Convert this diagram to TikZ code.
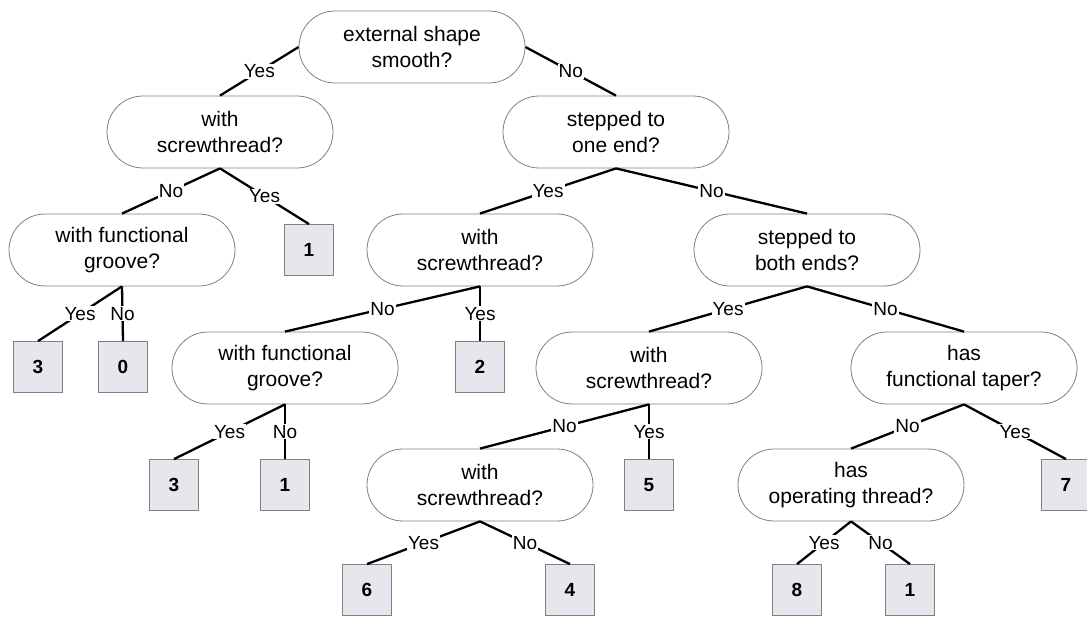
\documentclass[tikz,border=0pt]{standalone}
\usepackage{fontspec}
\setmainfont{Liberation Sans}
\usetikzlibrary{positioning}
\definecolor{mgray}{rgb}{0.5, 0.5, 0.5}
\definecolor{mfill}{RGB}{229, 231, 236}
\tikzset{quest/.style = {draw = mgray, line width = 0.8pt, rectangle, rounded corners = 36pt,
    minimum width = 226pt, minimum height = 72pt, align = center, font = \fontsize{21}{26}\selectfont}}
\tikzset{leaf/.style = {draw = mgray, line width = 0.8pt, fill = mfill, minimum width = 49pt,
    minimum height = 51pt, font = \fontsize{19}{20}\selectfont\bfseries}}
\tikzset{lbl/.style = {fill = white, inner sep = 1pt, font = \fontsize{19}{20}\selectfont}}
\tikzset{edge/.style = {line width = 2.3pt}}

\begin{document}
\begin{tikzpicture}[x = 1pt, y = -1pt]
    \useasboundingbox (0, 0) rectangle (1087, 617);

    \node [quest] (smooth) at (412, 47) {external shape\\smooth?};
    \node [quest] (thr1) at (220, 132) {with\\screwthread?};
    \node [quest] (step1) at (616, 132) {stepped to\\one end?};
    \node [quest] (groove1) at (122, 250) {with functional\\groove?};
    \node [quest] (thr2) at (480, 250) {with\\screwthread?};
    \node [quest] (step2) at (807, 250) {stepped to\\both ends?};
    \node [quest] (groove2) at (285, 368) {with functional\\groove?};
    \node [quest] (thr3) at (649, 368) {with\\screwthread?};
    \node [quest] (taper) at (964, 368) {has\\functional taper?};
    \node [quest] (thr4) at (480, 485) {with\\screwthread?};
    \node [quest] (opthr) at (851, 485) {has\\operating thread?};

    \node [leaf] (resA) at (309, 250) {1};
    \node [leaf] (resB) at (38, 367) {3};
    \node [leaf] (resC) at (123, 367) {0};
    \node [leaf] (resD) at (480, 367) {2};
    \node [leaf] (resE) at (174, 485) {3};
    \node [leaf] (resF) at (285, 485) {1};
    \node [leaf] (resG) at (649, 485) {5};
    \node [leaf] (resH) at (1066, 485) {7};
    \node [leaf] (resI) at (367, 590) {6};
    \node [leaf] (resJ) at (570, 590) {4};
    \node [leaf] (resK) at (797, 590) {8};
    \node [leaf] (resL) at (910, 590) {1};

    \draw [edge] (smooth.west) -- node [lbl] {Yes} (thr1.north);
    \draw [edge] (smooth.east) -- node [lbl] {No} (step1.north);
    \draw [edge] (thr1.south) -- node [lbl] {No} (groove1.north);
    \draw [edge] (thr1.south) -- node [lbl] {Yes} (resA.north);
    \draw [edge] (step1.south) -- node [lbl] {Yes} (thr2.north);
    \draw [edge] (step1.south) -- node [lbl] {No} (step2.north);
    \draw [edge] (groove1.south) -- node [lbl] {Yes} (resB.north);
    \draw [edge] (groove1.south) -- node [lbl] {No} (resC.north);
    \draw [edge] (thr2.south) -- node [lbl] {No} (groove2.north);
    \draw [edge] (thr2.south) -- node [lbl] {Yes} (resD.north);
    \draw [edge] (step2.south) -- node [lbl] {Yes} (thr3.north);
    \draw [edge] (step2.south) -- node [lbl] {No} (taper.north);
    \draw [edge] (groove2.south) -- node [lbl] {Yes} (resE.north);
    \draw [edge] (groove2.south) -- node [lbl] {No} (resF.north);
    \draw [edge] (thr3.south) -- node [lbl] {No} (thr4.north);
    \draw [edge] (thr3.south) -- node [lbl] {Yes} (resG.north);
    \draw [edge] (taper.south) -- node [lbl] {No} (opthr.north);
    \draw [edge] (taper.south) -- node [lbl] {Yes} (resH.north);
    \draw [edge] (thr4.south) -- node [lbl] {Yes} (resI.north);
    \draw [edge] (thr4.south) -- node [lbl] {No} (resJ.north);
    \draw [edge] (opthr.south) -- node [lbl] {Yes} (resK.north);
    \draw [edge] (opthr.south) -- node [lbl] {No} (resL.north);
  \end{tikzpicture}
\end{document}
